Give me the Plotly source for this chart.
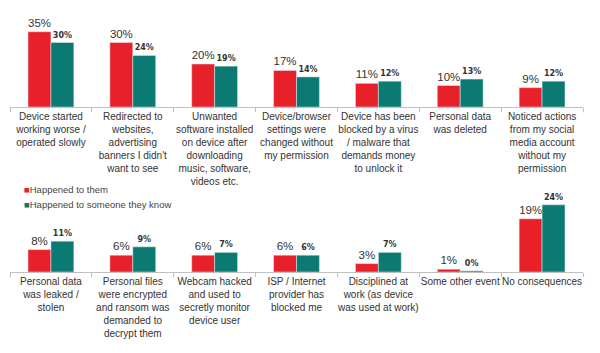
import plotly.graph_objects as go
from plotly.subplots import make_subplots

top_categories = [
    "Device started<br>working worse /<br>operated slowly",
    "Redirected to<br>websites,<br>advertising<br>banners I didn't<br>want to see",
    "Unwanted<br>software installed<br>on device after<br>downloading<br>music, software,<br>videos etc.",
    "Device/browser<br>settings were<br>changed without<br>my permission",
    "Device has been<br>blocked by a virus<br>/ malware that<br>demands money<br>to unlock it",
    "Personal data<br>was deleted",
    "Noticed actions<br>from my social<br>media account<br>without my<br>permission",
]
top_them = [35, 30, 20, 17, 11, 10, 9]
top_known = [30, 24, 19, 14, 12, 13, 12]

bottom_categories = [
    "Personal data<br>was leaked /<br>stolen",
    "Personal files<br>were encrypted<br>and ransom was<br>demanded to<br>decrypt them",
    "Webcam hacked<br>and used to<br>secretly monitor<br>device user",
    "ISP / Internet<br>provider has<br>blocked me",
    "Disciplined at<br>work (as device<br>was used at work)",
    "Some other event",
    "No consequences",
]
bottom_them = [8, 6, 6, 6, 3, 1, 19]
bottom_known = [11, 9, 7, 6, 7, 0.4, 24]

series_names = ["Happened to them", "Happened to someone they know"]
RED = "#E8202A"
TEAL = "#0A7A73"

fig = make_subplots(rows=2, cols=1)

def add_pair(cats, them, known, row):
    fig.add_trace(go.Bar(
        x=cats, y=them, name=series_names[0], marker_color=RED,
        texttemplate="%{y:.0f}%", textposition="outside", cliponaxis=False,
        textfont=dict(family="Liberation Sans, Arial", size=11.5, color="#333333"),
        showlegend=False, hoverinfo="skip",
    ), row=row, col=1)
    fig.add_trace(go.Bar(
        x=cats, y=known, name=series_names[1], marker_color=TEAL,
        texttemplate="%{y:.0f}%", textposition="outside", cliponaxis=False,
        textfont=dict(family="DejaVu Sans", size=8, color="#333333", weight="bold"),
        showlegend=False, hoverinfo="skip",
    ), row=row, col=1)

add_pair(top_categories, top_them, top_known, 1)
add_pair(bottom_categories, bottom_them, bottom_known, 2)

W, H = 600, 353
xdom = [10 / W, 583 / W]
axis_common = dict(
    domain=xdom, showline=True, linecolor="#c0c0c0", linewidth=1,
    ticks="outside", tickson="boundaries", ticklen=4, tickcolor="#c0c0c0",
    tickfont=dict(family="Liberation Sans, Arial", size=10, color="#333333"),
    tickangle=0, showgrid=False, zeroline=False, fixedrange=True,
)
fig.update_layout(
    xaxis=dict(**axis_common),
    xaxis2=dict(**axis_common),
    yaxis=dict(domain=[1 - 107 / H, 1.0], range=[0, 107 / 2.15], visible=False),
    yaxis2=dict(domain=[1 - 272 / H, 1 - 180 / H], range=[0, 92 / 2.8], visible=False),
    barmode="group", bargap=0.44, bargroupgap=0,
    width=W, height=H, margin=dict(l=0, r=0, t=0, b=0),
    paper_bgcolor="white", plot_bgcolor="white",
    showlegend=False,
)

legend_items = [(series_names[0], RED, 189), (series_names[1], TEAL, 204)]
for name, color, py in legend_items:
    fig.add_annotation(
        x=22 / W, y=1 - py / H, xref="paper", yref="paper",
        xanchor="left", yanchor="middle", showarrow=False,
        text=f"<span style='color:{color}'>■</span>{name}",
        font=dict(family="Liberation Sans, Arial", size=9.5, color="#444444"),
    )

fig.write_html("out.html")
